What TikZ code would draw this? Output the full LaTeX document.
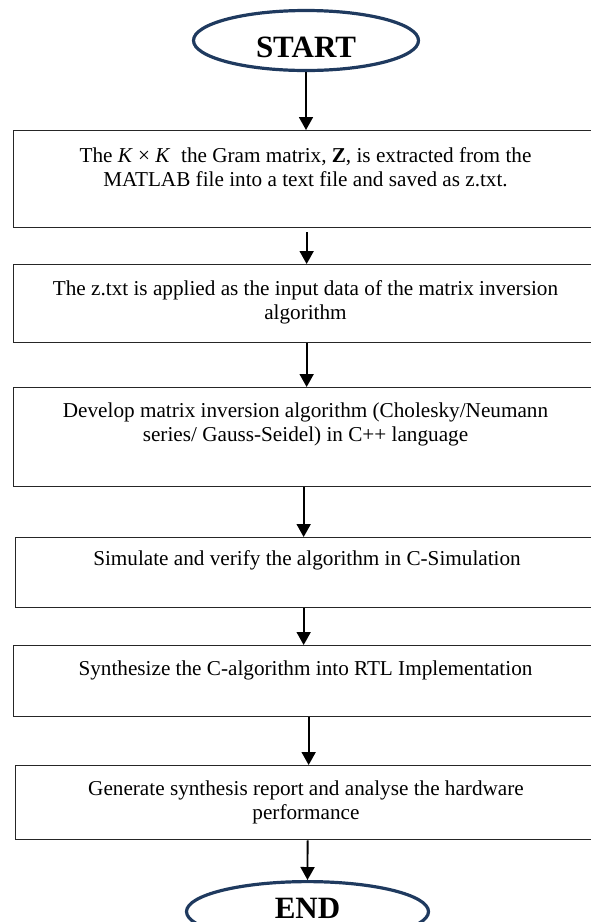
\documentclass[tikz,border=0pt]{standalone}
\usepackage{fontspec}
\setmainfont{Liberation Serif}
\usetikzlibrary{arrows.meta,shapes.geometric}
\definecolor{ovalblue}{HTML}{1F3A5F}
\begin{document}
\begin{tikzpicture}[x=1pt,y=-1pt,
  terminal/.style={draw=ovalblue, line width=3.2pt, ellipse, inner sep=0pt,
    minimum height=60pt},
  termtext/.style={font=\fontsize{31}{36}\selectfont\bfseries, inner sep=0pt, anchor=base},
  stepbox/.style={draw=black!85, line width=1.3pt, rectangle, inner sep=0pt,
    anchor=north west},
  % anchor=base of a multi-line text sits on its last line
  steptext/.style={font=\fontsize{21.2}{24}\selectfont, align=center, inner sep=0pt,
    anchor=base},
  flow/.style={-{Triangle[width=14pt,length=13pt]}, line width=1.8pt}]

\useasboundingbox (0,0) rectangle (590,922);

% terminals
\node[terminal, minimum width=225pt] (startoval) at (306,40.5) {};
\node[termtext] (startlbl) at (306,57) {START};

\node[terminal, minimum width=242pt] (endoval) at (307.5,911.6) {};
\node[termtext] (endlbl) at (307.5,918) {END};

% process boxes
\node[stepbox, minimum width=585pt, minimum height=97pt] (s1) at (13,130) {};
\node[stepbox, minimum width=585pt, minimum height=78pt] (s2) at (13,264) {};
\node[stepbox, minimum width=585pt, minimum height=99pt] (s3) at (13,387) {};
\node[stepbox, minimum width=583pt, minimum height=70pt] (s4) at (15,537) {};
\node[stepbox, minimum width=585pt, minimum height=71pt] (s5) at (13,645) {};
\node[stepbox, minimum width=583pt, minimum height=74pt] (s6) at (15,765) {};

% box texts
\node[steptext] (t1) at (305.5,186) {The \textit{K} × \textit{K}\ \ the Gram matrix, \textbf{Z}, is extracted from the\\MATLAB file into a text file and saved as z.txt.};
\node[steptext] (t2) at (305.5,319) {The z.txt is applied as the input data of the matrix inversion\\algorithm};
\node[steptext] (t3) at (305.5,441) {Develop matrix inversion algorithm (Cholesky/Neumann\\series/ Gauss-Seidel) in C++ language};
\node[steptext] (t4) at (307,565) {Simulate and verify the algorithm in C-Simulation};
\node[steptext] (t5) at (305.5,675) {Synthesize the C-algorithm into RTL Implementation};
\node[steptext] (t6) at (306,819) {Generate synthesis report and analyse the hardware\\performance};

% connectors
\draw[flow] (startoval.south) -- (startoval.south |- s1.north);
\draw[flow, shorten <=4pt] ([xshift=0.5pt]s1.south) -- ([xshift=0.5pt]s2.north);
\draw[flow] ([xshift=0.5pt]s2.south) -- ([xshift=0.5pt]s3.north);
\draw[flow] ([xshift=-2.5pt]s3.south) -- ([xshift=-3.5pt]s4.north);
\draw[flow] ([xshift=-3.5pt]s4.south) -- ([xshift=-2.5pt]s5.north);
\draw[flow] ([xshift=2.5pt]s5.south) -- ([xshift=1.5pt]s6.north);
\draw[flow] ([xshift=0.5pt]s6.south) -- (endoval.north);
\end{tikzpicture}
\end{document}
